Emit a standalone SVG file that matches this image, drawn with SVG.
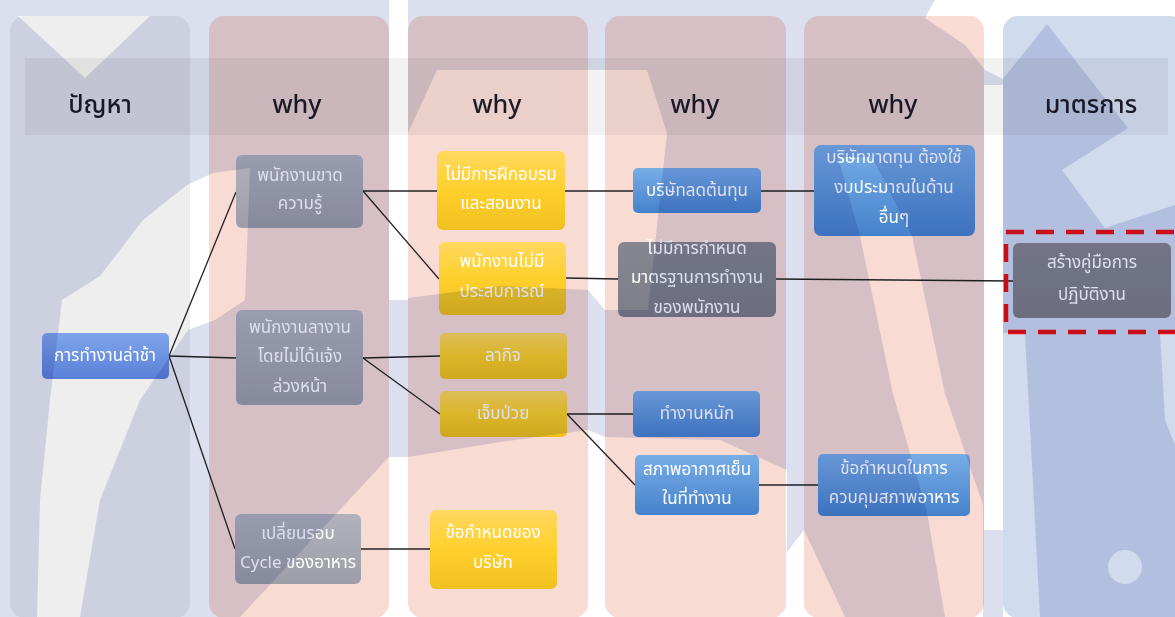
<svg xmlns="http://www.w3.org/2000/svg" width="1175" height="617" viewBox="0 0 1175 617">
<defs>
<style>
.col{stroke:none}
.c1{fill:#eeeeee}
.cw{fill:#f8dcd4}
.c6{fill:#d0dbee}
.hdr{font-family:"Noto Sans Thai","Noto Sans","Open Sans","DejaVu Sans",sans-serif;font-size:25px;font-weight:500;fill:#1b1b28;text-anchor:middle}
.nt{font-family:"Noto Sans Thai","Noto Sans","Open Sans","DejaVu Sans",sans-serif;font-size:17px;fill:#ffffff;text-anchor:middle;dominant-baseline:central}
.edge{stroke:#222;stroke-width:1.3;fill:none}
.hole{fill:#000}
</style>
<linearGradient id="gGrey" x1="0" y1="0" x2="0" y2="1"><stop offset="0" stop-color="#b2b2bc"/><stop offset="1" stop-color="#9d9ea7"/></linearGradient>
<linearGradient id="gDark" x1="0" y1="0" x2="0" y2="1"><stop offset="0" stop-color="#85868f"/><stop offset="1" stop-color="#7d7e88"/></linearGradient>
<linearGradient id="gYel" x1="0" y1="0" x2="0" y2="1"><stop offset="0" stop-color="#ffd860"/><stop offset="0.5" stop-color="#ffd02c"/><stop offset="1" stop-color="#f0c020"/></linearGradient>
<linearGradient id="gBlue" x1="0" y1="0" x2="0" y2="1"><stop offset="0" stop-color="#78ade6"/><stop offset="1" stop-color="#4682cc"/></linearGradient>
<linearGradient id="gRoyal" x1="0" y1="0" x2="0" y2="1"><stop offset="0" stop-color="#80a5ec"/><stop offset="1" stop-color="#5a80d8"/></linearGradient>
<mask id="wmMask" maskUnits="userSpaceOnUse" x="0" y="0" width="1175" height="617">
<rect x="0" y="0" width="1175" height="617" fill="#fff"/>
<polygon class="hole" points="37,617 40,500 50,400 62,300 100,276 143,220 187,185 213,173 250,168 245,300 215,320 188,330 140,400 100,500 80,617"/>
<polygon class="hole" points="240,617 389,457 408,457 500,442 588,430 605,437 720,440 787,470 787,552 804,530 845,617"/>
<polygon class="hole" points="437,70 647,70 667,133 648,310 605,310 588,290 500,286 408,298 408,133"/>
<polygon class="hole" points="389,0 408,0 408,300 389,300"/>
<polygon class="hole" points="838,157 872,157 912,236 945,394 983,505 983,617 945,617 927,512 893,394 860,236"/>
<polygon class="hole" points="935,0 1175,0 1175,205 1105,228 1062,170 1128,128 1047,24 1003,79 985,70 965,45 925,18"/>
<polygon class="hole" points="984,85 1003,85 1003,530 984,530"/>
<polygon class="hole" points="1003,333 1025,333 1040,617 1003,617"/>
<polygon class="hole" points="1160,333 1175,333 1175,445 1165,420"/>
<circle class="hole" cx="1125" cy="567" r="17"/>
<polygon class="hole" points="18,16 150,16 85,78"/>
</mask>
</defs>

<!-- background and columns (light base) -->
<rect x="0" y="0" width="1175" height="617" fill="#ffffff"/>
<g id="columns">
<rect class="col c1" x="10" y="16" width="180" height="602" rx="15"/>
<rect class="col cw" x="209" y="16" width="180" height="602" rx="15"/>
<rect class="col cw" x="408" y="16" width="180" height="602" rx="15"/>
<rect class="col cw" x="605" y="16" width="181" height="602" rx="15"/>
<rect class="col cw" x="804" y="16" width="180" height="602" rx="15"/>
<rect class="col c6" x="1003" y="16" width="182" height="602" rx="15"/>
</g>
<rect id="header-band" x="25" y="58" width="1143" height="77" fill="#000" opacity="0.05"/>

<g id="headers">
<text class="hdr" x="100" y="113">ปัญหา</text>
<text class="hdr" x="297" y="113">why</text>
<text class="hdr" x="497" y="113">why</text>
<text class="hdr" x="695" y="113">why</text>
<text class="hdr" x="893" y="113">why</text>
<text class="hdr" x="1091" y="113">มาตรการ</text>
</g>

<g id="connectors">
<path class="edge" d="M169,356 L236,192"/>
<path class="edge" d="M169,356 L236,358"/>
<path class="edge" d="M169,356 L235,549"/>
<path class="edge" d="M363,191 L437,191"/>
<path class="edge" d="M363,191 L439,279"/>
<path class="edge" d="M363,358 L440,356"/>
<path class="edge" d="M363,358 L440,414"/>
<path class="edge" d="M361,549 L430,549"/>
<path class="edge" d="M565,191 L633,191"/>
<path class="edge" d="M761,191 L814,191"/>
<path class="edge" d="M566,278 L618,279"/>
<path class="edge" d="M776,279 L1013,281"/>
<path class="edge" d="M567,414 L633,414"/>
<path class="edge" d="M567,414 L635,485"/>
<path class="edge" d="M759,485 L818,485"/>
</g>

<g id="n-late"><rect x="42" y="333" width="127" height="46" rx="5" fill="url(#gRoyal)"/><text class="nt" x="105" y="356">การทำงานล่าช้า</text></g>
<g id="n-knowledge"><rect x="236" y="155" width="127" height="73" rx="6" fill="url(#gGrey)"/><text class="nt" x="300" y="176">พนักงานขาด</text><text class="nt" x="300" y="204">ความรู้</text></g>
<g id="n-leave"><rect x="236" y="310" width="127" height="95" rx="6" fill="url(#gGrey)"/><text class="nt" x="300" y="328">พนักงานลางาน</text><text class="nt" x="300" y="357">โดยไม่ได้แจ้ง</text><text class="nt" x="300" y="387">ล่วงหน้า</text></g>
<g id="n-cycle"><rect x="235" y="514" width="126" height="70" rx="6" fill="url(#gGrey)"/><text class="nt" x="298" y="534">เปลี่ยนรอบ</text><text class="nt" x="298" y="563">Cycle ของอาหาร</text></g>
<g id="n-training"><rect x="437" y="151" width="128" height="79" rx="6" fill="url(#gYel)"/><text class="nt" x="501" y="175">ไม่มีการฝึกอบรม</text><text class="nt" x="501" y="204">และสอนงาน</text></g>
<g id="n-exp"><rect x="439" y="242" width="127" height="73" rx="6" fill="url(#gYel)"/><text class="nt" x="502" y="262">พนักงานไม่มี</text><text class="nt" x="502" y="292">ประสบการณ์</text></g>
<g id="n-personal"><rect x="440" y="333" width="127" height="46" rx="5" fill="url(#gYel)"/><text class="nt" x="503" y="356">ลากิจ</text></g>
<g id="n-sick"><rect x="440" y="391" width="127" height="46" rx="5" fill="url(#gYel)"/><text class="nt" x="503" y="414">เจ็บป่วย</text></g>
<g id="n-rule"><rect x="430" y="510" width="127" height="79" rx="6" fill="url(#gYel)"/><text class="nt" x="493" y="533">ข้อกำหนดของ</text><text class="nt" x="493" y="563">บริษัท</text></g>
<g id="n-cost"><rect x="633" y="168" width="128" height="45" rx="5" fill="url(#gBlue)"/><text class="nt" x="697" y="191">บริษัทลดต้นทุน</text></g>
<g id="n-standard"><rect x="618" y="242" width="158" height="75" rx="6" fill="url(#gDark)"/><text class="nt" x="697" y="249">ไม่มีการกำหนด</text><text class="nt" x="697" y="278">มาตรฐานการทำงาน</text><text class="nt" x="697" y="308">ของพนักงาน</text></g>
<g id="n-hard"><rect x="633" y="391" width="127" height="46" rx="5" fill="url(#gBlue)"/><text class="nt" x="697" y="414">ทำงานหนัก</text></g>
<g id="n-cold"><rect x="635" y="455" width="124" height="60" rx="5" fill="url(#gBlue)"/><text class="nt" x="697" y="470">สภาพอากาศเย็น</text><text class="nt" x="697" y="499">ในที่ทำงาน</text></g>
<g id="n-loss"><rect x="814" y="145" width="161" height="91" rx="7" fill="url(#gBlue)"/><text class="nt" x="894" y="158">บริษัทขาดทุน ต้องใช้</text><text class="nt" x="894" y="188">งบประมาณในด้าน</text><text class="nt" x="894" y="218">อื่นๆ</text></g>
<g id="n-food"><rect x="818" y="454" width="152" height="62" rx="5" fill="url(#gBlue)"/><text class="nt" x="894" y="469">ข้อกำหนดในการ</text><text class="nt" x="894" y="498">ควบคุมสภาพอาหาร</text></g>
<g id="n-manual"><rect x="1013" y="243" width="158" height="75" rx="6" fill="url(#gDark)"/><text class="nt" x="1092" y="263">สร้างคู่มือการ</text><text class="nt" x="1092" y="295">ปฏิบัติงาน</text></g>

<rect id="highlight" x="1006" y="232" width="200" height="100" fill="none" stroke="#e8101c" stroke-width="4.5" stroke-dasharray="18 12"/>

<!-- watermark tint (multiply) -->
<rect id="watermark" x="0" y="0" width="1175" height="617" fill="#dcdfee" mask="url(#wmMask)" style="mix-blend-mode:multiply"/>
</svg>
